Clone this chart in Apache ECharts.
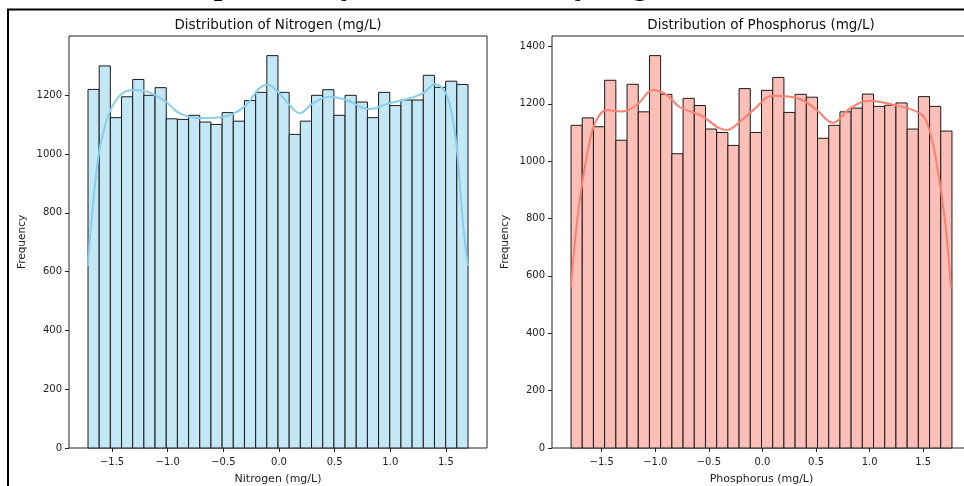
<!DOCTYPE html>
<html>
<head>
<meta charset="utf-8">
<script src="https://cdn.jsdelivr.net/npm/echarts@6/dist/echarts.min.js"></script>
<style>html,body{margin:0;padding:0;background:#fff;overflow:hidden;width:964px;height:486px;}#c{width:990px;height:486px;}</style>
</head>
<body>
<div id="c"></div>
<script>
// ---- data ----
const nitrogenBinStart = -1.716;
const nitrogenBinEnd = 1.698;
const nitrogenCounts = [1220,1300,1124,1195,1254,1200,1226,1120,1118,1132,1109,1101,1141,1112,1182,1210,1335,1210,1067,1112,1200,1219,1132,1200,1177,1124,1210,1165,1184,1184,1268,1227,1248,1237];
const nitrogenKdeX = [-1.716,-1.692,-1.623,-1.557,-1.512,-1.407,-1.286,-1.167,-1.016,-0.896,-0.716,-0.536,-0.416,-0.295,-0.176,-0.104,-0.011,0.095,0.185,0.305,0.455,0.605,0.815,0.966,1.176,1.295,1.401,1.491,1.551,1.596,1.656,1.698];
const nitrogenKdeY = [620,741,991,1105,1152,1207,1218,1210,1178,1139,1122,1125,1136,1167,1224,1236,1212,1167,1139,1173,1195,1184,1153,1170,1190,1207,1238,1212,1139,1025,752,620];

const phosphorusBinStart = -1.786;
const phosphorusBinEnd = 1.768;
const phosphorusCounts = [1125,1151,1120,1282,1073,1268,1172,1368,1233,1026,1219,1194,1112,1100,1055,1253,1100,1247,1292,1170,1233,1223,1080,1125,1172,1185,1234,1191,1195,1203,1112,1225,1191,1105];
const phosphorusKdeX = [-1.786,-1.739,-1.687,-1.609,-1.547,-1.453,-1.313,-1.173,-1.019,-0.894,-0.770,-0.583,-0.334,-0.210,-0.086,0.101,0.350,0.506,0.660,0.817,1.003,1.190,1.469,1.547,1.625,1.702,1.758];
const phosphorusKdeY = [561,760,911,1074,1144,1178,1173,1196,1248,1231,1188,1161,1109,1138,1178,1228,1217,1178,1134,1184,1211,1199,1167,1120,993,795,561];

const xTicks = [-1.5,-1.0,-0.5,0.0,0.5,1.0,1.5];
const yTicksLeft = [0,200,400,600,800,1000,1200];
const yTicksRight = [0,200,400,600,800,1000,1200,1400];

const titles = ['Distribution of Nitrogen (mg/L)','Distribution of Phosphorus (mg/L)'];
const xNames = ['Nitrogen (mg/L)','Phosphorus (mg/L)'];
const supTitle = 'Comparison by Nutrient Density (mg/L)';

// ---- build ----
function bins(start, end, counts){
  const w = (end - start) / counts.length;
  return counts.map((c, i) => [start + i*w, start + (i+1)*w, c]);
}
function zip(a, b){ return a.map((v, i) => [v, b[i]]); }
function fmt(v){ return v.toFixed(1).replace('-', '\u2212'); }

const FONT = 'DejaVu Sans';
const fills = ['#c3e7f5', '#fcbfb8'];
const lines = ['#87ceeb', '#fa8072'];

function renderer(fill){
  return function(params, api){
    const p0 = api.coord([api.value(0), api.value(2)]);
    const p1 = api.coord([api.value(1), 0]);
    return {type:'rect', shape:{x:p0[0], y:p0[1], width:p1[0]-p0[0], height:p1[1]-p0[1]},
      style:{fill:fill, stroke:'#1a1a1a', lineWidth:1}};
  };
}
function xr(s, e){ const pad = (e - s) * 0.05; return [s - pad, e + pad]; }

const xr0 = xr(nitrogenBinStart, nitrogenBinEnd);
const xr1 = xr(phosphorusBinStart, phosphorusBinEnd);
const ymax0 = Math.max(...nitrogenCounts) * 1.05;
const ymax1 = Math.max(...phosphorusCounts) * 1.05;

function xAxis(idx, range){
  return {type:'value', gridIndex:idx, min:range[0], max:range[1],
    name:xNames[idx], nameLocation:'middle', nameGap:26,
    nameTextStyle:{fontFamily:FONT, fontSize:11, color:'#222'},
    axisLine:{show:false, onZero:false}, splitLine:{show:false},
    axisTick:{show:true, inside:false, length:4, lineStyle:{color:'#222', width:1}, customValues:xTicks},
    axisLabel:{fontFamily:FONT, fontSize:10, color:'#222', margin:9, customValues:xTicks, formatter:fmt}};
}
function yAxis(idx, max, ticks){
  return {type:'value', gridIndex:idx, min:0, max:max,
    name:'Frequency', nameLocation:'middle', nameGap:41, nameRotate:90,
    nameTextStyle:{fontFamily:FONT, fontSize:10.5, color:'#222'},
    axisLine:{show:false, onZero:false}, splitLine:{show:false},
    axisTick:{show:true, inside:false, length:4, lineStyle:{color:'#222', width:1}, customValues:ticks},
    axisLabel:{fontFamily:FONT, fontSize:10, color:'#222', margin:7, customValues:ticks, formatter:v=>String(Math.round(v))}};
}

const chart = echarts.init(document.getElementById('c'));
chart.setOption({
  animation:false,
  backgroundColor:'#fff',
  grid:[
    {left:69, top:36, width:418, height:412, outerBoundsMode:'none', containLabel:false, show:true, borderColor:'#222', borderWidth:1, backgroundColor:'transparent'},
    {left:552, top:36, width:419, height:412, outerBoundsMode:'none', containLabel:false, show:true, borderColor:'#222', borderWidth:1, backgroundColor:'transparent'}
  ],
  xAxis:[xAxis(0, xr0), xAxis(1, xr1)],
  yAxis:[yAxis(0, ymax0, yTicksLeft), yAxis(1, ymax1, yTicksRight)],
  series:[
    {type:'custom', xAxisIndex:0, yAxisIndex:0, renderItem:renderer(fills[0]), data:bins(nitrogenBinStart, nitrogenBinEnd, nitrogenCounts), encode:{x:[0,1], y:2}, z:2},
    {type:'line', xAxisIndex:0, yAxisIndex:0, data:zip(nitrogenKdeX, nitrogenKdeY), smooth:0.4, showSymbol:false, lineStyle:{color:lines[0], width:2}, z:3},
    {type:'custom', xAxisIndex:1, yAxisIndex:1, renderItem:renderer(fills[1]), data:bins(phosphorusBinStart, phosphorusBinEnd, phosphorusCounts), encode:{x:[0,1], y:2}, z:2},
    {type:'line', xAxisIndex:1, yAxisIndex:1, data:zip(phosphorusKdeX, phosphorusKdeY), smooth:0.4, showSymbol:false, lineStyle:{color:lines[1], width:2}, z:3}
  ],
  graphic:[
    {type:'polyline', shape:{points:[[8,486],[8,9.5],[990,9.5]]}, style:{stroke:'#000', lineWidth:2, fill:null}, z:10},
    {type:'text', x:278, y:25, style:{text:titles[0], fontFamily:FONT, fontSize:13.5, fill:'#111', textAlign:'center', textVerticalAlign:'middle'}},
    {type:'text', x:761, y:25, style:{text:titles[1], fontFamily:FONT, fontSize:13.5, fill:'#111', textAlign:'center', textVerticalAlign:'middle'}},
    {type:'text', x:420, y:1.5, style:{text:supTitle, fontFamily:'DejaVu Serif', fontWeight:'bold', fontSize:24, fill:'#000', textAlign:'center', textVerticalAlign:'bottom'}}
  ]
});
</script>
</body>
</html>
